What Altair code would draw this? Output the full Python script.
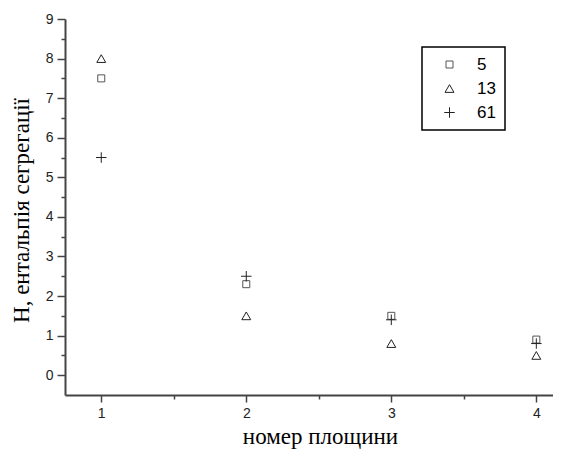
import altair as alt
import pandas as pd

plane = [1, 2, 3, 4]
series_names = ["5", "13", "61"]
h_5 = [7.5, 2.3, 1.5, 0.9]
h_13 = [8.0, 1.5, 0.8, 0.5]
h_61 = [5.5, 2.5, 1.4, 0.8]

rows = []
for name, vals in zip(series_names, [h_5, h_13, h_61]):
    for x, v in zip(plane, vals):
        rows.append({"plane": x, "H": v, "series": name})
df = pd.DataFrame(rows)

cross_path = "M-1,0H1M0,-1V1"

leg = alt.Legend(title=None, orient="none", legendX=357, legendY=28,
                 strokeColor="#000000", fillColor="#ffffff",
                 padding=9, symbolOffset=10, labelOffset=19,
                 rowPadding=6, labelFontSize=17, labelFont="Liberation Sans",
                 labelColor="#000000", symbolStrokeWidth=1)

chart = alt.Chart(df).mark_point(filled=False, strokeWidth=1, opacity=1).encode(
    x=alt.X("plane:Q",
            scale=alt.Scale(domain=[0.75, 4.115], nice=False, zero=False),
            axis=alt.Axis(
                values=[1, 1.5, 2, 2.5, 3, 3.5, 4],
                labelExpr="datum.value % 1 === 0 ? format(datum.value, 'd') : ''",
                tickSize={"condition": {"test": "datum.value % 1 === 0", "value": 7}, "value": 4},
                title="номер площини",
                titleBaseline="alphabetic",
                titleAlign="center",
                titleX=255,
                titleY=48,
                grid=False)),
    y=alt.Y("H:Q",
            scale=alt.Scale(domain=[-0.5, 9], nice=False, zero=False),
            axis=alt.Axis(
                values=[0, 0.5, 1, 1.5, 2, 2.5, 3, 3.5, 4, 4.5, 5, 5.5, 6, 6.5, 7, 7.5, 8, 8.5, 9],
                labelExpr="datum.value % 1 === 0 ? format(datum.value, 'd') : ''",
                tickSize={"condition": {"test": "datum.value % 1 === 0", "value": 8}, "value": 4},
                title="H, ентальпія сегрегації",
                titleBaseline="alphabetic",
                titleAlign="center",
                titleAngle=270,
                titleX=-37,
                titleY=191,
                grid=False)),
    shape=alt.Shape("series:N",
                    scale=alt.Scale(domain=series_names, range=["square", "triangle-up", cross_path]),
                    legend=leg),
    color=alt.Color("series:N",
                    scale=alt.Scale(domain=series_names, range=["#555555", "#222222", "#222222"]),
                    legend=leg),
    size=alt.Size("series:N",
                  scale=alt.Scale(domain=series_names, range=[49, 110, 49]),
                  legend=leg),
).properties(
    width=488,
    height=376,
    autosize=alt.AutoSizeParams(type="none"),
    padding={"left": 57, "top": 11, "right": 0, "bottom": 54},
).configure_view(stroke=None).configure_axis(
    domainColor="#444444",
    domainWidth=2,
    tickColor="#444444",
    tickWidth=1.5,
    labelFont="Liberation Sans",
    labelFontSize=14,
    labelColor="#222222",
    labelPadding=4,
    titleFont="Liberation Serif",
    titleFontSize=23,
    titleFontWeight="normal",
    titleColor="#000000",
).configure_legend(strokeWidth=1.5)

chart.save("out.html", embed_options={"renderer": "svg", "actions": False})
